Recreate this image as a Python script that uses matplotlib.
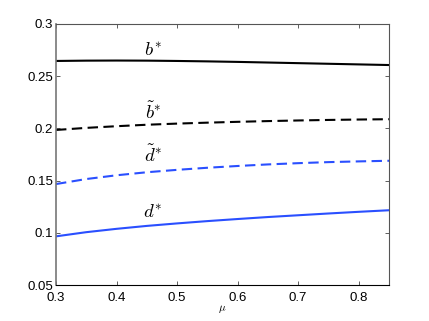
import matplotlib
matplotlib.use('Agg')
import matplotlib.pyplot as plt

# values
mu = [0.3, 0.35, 0.4, 0.45, 0.5, 0.55, 0.6, 0.65, 0.7, 0.75, 0.8, 0.85]
b_star = [0.2646, 0.2649, 0.2650, 0.2649, 0.2646, 0.2642, 0.2637, 0.2631,
          0.2625, 0.2619, 0.2613, 0.2607]
b_tilde = [0.1985, 0.2005, 0.2021, 0.2035, 0.2046, 0.2055, 0.2063, 0.2070,
           0.2076, 0.2081, 0.2085, 0.2088]
d_tilde = [0.1467, 0.1515, 0.1551, 0.1580, 0.1603, 0.1623, 0.1640, 0.1655,
           0.1667, 0.1677, 0.1684, 0.1690]
d_star = [0.0966, 0.1006, 0.1038, 0.1066, 0.1090, 0.1112, 0.1132, 0.1151,
          0.1168, 0.1185, 0.1201, 0.1216]

xticks = [0.3, 0.4, 0.5, 0.6, 0.7, 0.8]
yticks = [0.05, 0.1, 0.15, 0.2, 0.25, 0.3]
ytick_labels = ['0.05', '0.1', '0.15', '0.2', '0.25', '0.3']

blue = '#2a4fff'

plt.rcParams['mathtext.fontset'] = 'cm'
plt.rcParams['font.family'] = ['Liberation Sans', 'DejaVu Sans']

fig = plt.figure(figsize=(4.29, 3.21), dpi=100)
ax = fig.add_axes([56 / 429, 1 - 285 / 321, 333 / 429, 261 / 321])

ax.plot(mu, b_star, color='black', lw=1.5)
ax.plot(mu, b_tilde, color='black', lw=1.5, ls=(0, (5, 2.6)))
ax.plot(mu, d_tilde, color=blue, lw=1.5, ls=(0, (5, 2.6)))
ax.plot(mu, d_star, color=blue, lw=1.5)

# curve labels
ax.text(0.46, 0.2738, r'$b^{*}$', fontsize=13.5, ha='center', va='center')
ax.text(0.46, 0.2155, r'$\tilde{b}^{*}$', fontsize=13.5, ha='center', va='center')
ax.text(0.46, 0.1745, r'$\tilde{d}^{*}$', fontsize=13.5, ha='center', va='center')
ax.text(0.46, 0.1195, r'$d^{*}$', fontsize=13.5, ha='center', va='center')

ax.set_xlim(0.3, 0.85)
ax.set_ylim(0.05, 0.3)
ax.set_xticks(xticks)
ax.set_xticklabels([str(t) for t in xticks])
ax.set_yticks(yticks)
ax.set_yticklabels(ytick_labels)
ax.tick_params(direction='in', top=True, right=True, length=3, width=0.6,
               labelsize=9.5, colors='#444444', labelcolor='black', pad=2)
ax.tick_params(axis='x', pad=5)
for s in ax.spines.values():
    s.set_color('#555555')
    s.set_linewidth(0.8)
ax.spines['left'].set_linewidth(1.2)
ax.spines['left'].set_color('#777777')
ax.spines['bottom'].set_color('black')

ax.set_xlabel(r'$\mu$', fontsize=8, labelpad=-1)

fig.savefig('out.png', dpi=100)
